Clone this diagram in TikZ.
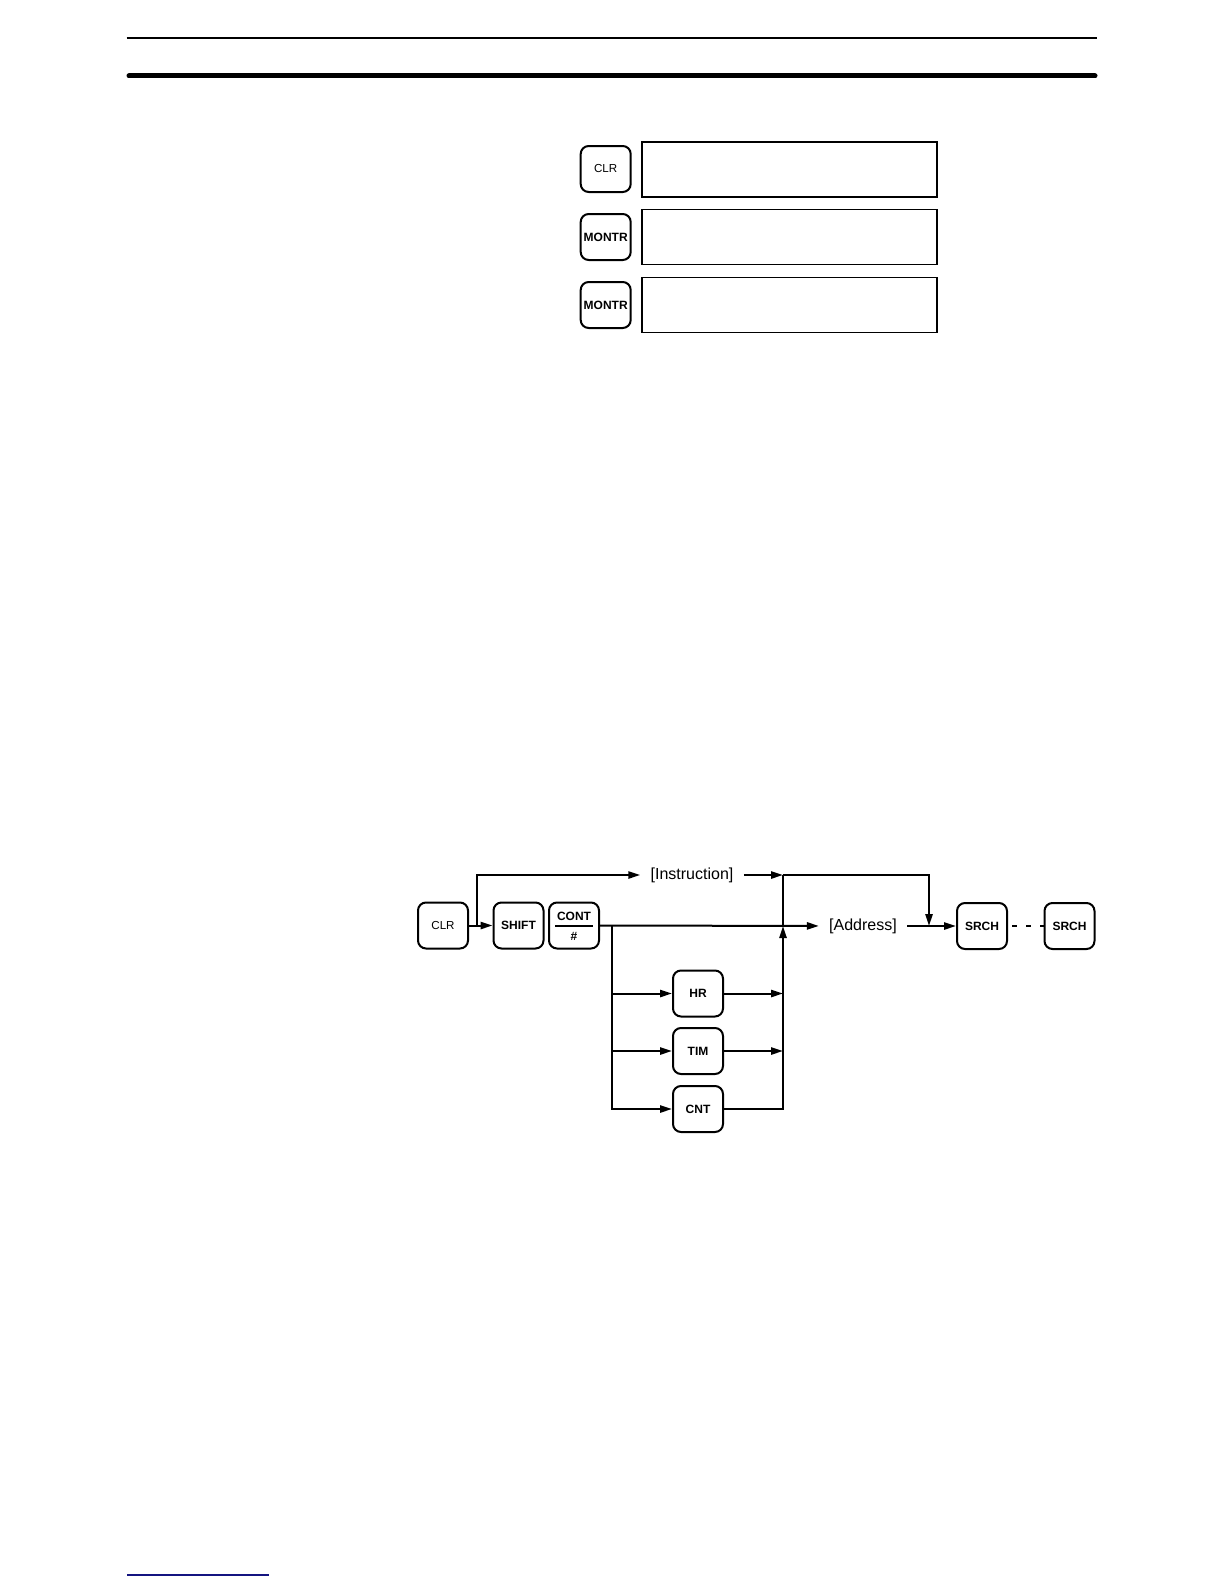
\documentclass[tikz,border=0pt]{standalone}
\usepackage{fontspec}
\setmainfont{Liberation Sans}
\usepackage{xcolor}
\usepackage{tikz}
\usetikzlibrary{arrows,arrows.meta}
\definecolor{rulenavy}{rgb}{0.08,0.08,0.5}
\tikzstyle{key}=[draw,line width=1pt,rounded corners=4pt,minimum width=25pt,minimum height=23pt,inner sep=0pt,font=\fontsize{6}{7}\selectfont\bfseries]
\tikzstyle{plainkey}=[key,font=\fontsize{5.8}{7}\selectfont]
\tikzstyle{screen}=[draw,line width=0.7pt,minimum width=147.5pt,minimum height=27.5pt,inner sep=0pt]
\tikzstyle{label}=[font=\fontsize{8}{9}\selectfont,inner sep=5pt]
\tikzstyle{flow}=[line width=1pt,>={Triangle[length=6pt,width=3.6pt]}]

\begin{document}
\begin{tikzpicture}[x=0.5pt,y=-0.5pt]
        \useasboundingbox (0,0) rectangle (1224,1584);
        % page rules
        \draw [line width=1pt] (126.5,37.7) -- (1097,37.7);
        \draw [line width=2.5pt,line cap=round] (129,76) -- (1095,76);
        \draw [rulenavy,line width=0.6pt] (127,1575) -- (269,1575);

        % keys and displays
        \node at (605.7,169) [plainkey] (clrA) {CLR};
        \node at (605.7,237) [key] (montrA) {MONTR};
        \node at (605.7,305) [key] (montrB) {MONTR};
        \node at (789.5,169.5) [screen] (dispA) {};
        \node at (789.5,237) [screen] (dispB) {};
        \node at (789.5,305) [screen] (dispC) {};

        % search sequence
        \node at (443,925.5) [plainkey] (clr) {CLR};
        \node at (518.5,925.5) [key] (shift) {SHIFT};
        \node at (574,925.5) [key] (cont) {};
        \node at (574,916.5) [key,draw=none,minimum width=0pt,minimum height=0pt] (conttop) {CONT};
        \node at (574,936) [key,draw=none,minimum width=0pt,minimum height=0pt] (contbot) {\#};
        \node at (982,926) [key] (srchA) {SRCH};
        \node at (1069.5,926) [key] (srchB) {SRCH};
        \node at (698,993.5) [key] (hr) {HR};
        \node at (698,1051) [key] (tim) {TIM};
        \node at (698,1109) [key] (cnt) {CNT};
        \node at (692,875) [label] (instr) {[Instruction]};
        \node at (863,926) [label] (addr) {[Address]};

        \coordinate (fork) at (477,926);
        \coordinate (split) at (612,926);
        \coordinate (merge) at (783,875);
        \coordinate (join) at (783,926);
        \coordinate (drop) at (929,926);

        \draw [line width=0.8pt] (555,926) -- (593,926);
        \draw [flow,->] (clr) -- (shift);
        \draw [flow,->] (fork) |- (instr);
        \draw [flow,->] (instr) -- (merge);
        \draw [flow,->] (merge) -| (drop);
        \draw [flow] (merge) -- (join);
        \draw [flow,->] (cont) -- (addr);
        \draw [flow,->] (addr) -- (srchA);
        \draw [line width=0.6pt,dash pattern=on 2.5pt off 4.5pt,dash phase=-2pt] (srchA) -- (srchB);
        \draw [flow,->] (split) |- (cnt);
        \draw [flow,->] (split |- hr) -- (hr);
        \draw [flow,->] (split |- tim) -- (tim);
        \draw [flow,->] (hr) -- (hr -| join);
        \draw [flow,->] (tim) -- (tim -| join);
        \draw [flow,->] (cnt) -| (join);
      \end{tikzpicture}
\end{document}
